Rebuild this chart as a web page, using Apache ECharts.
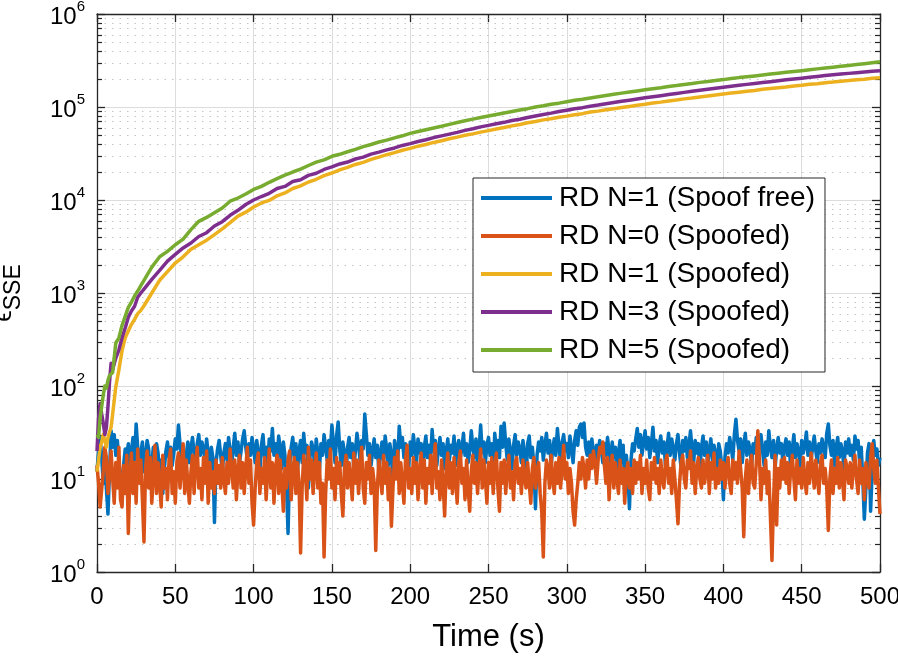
<!DOCTYPE html>
<html>
<head>
<meta charset="utf-8">
<script src="https://cdn.jsdelivr.net/npm/echarts@6/dist/echarts.min.js"></script>
<style>html,body{margin:0;padding:0;background:#fff}#c{width:898px;height:657px}</style>
</head>
<body>
<div id="c"></div>
<script>
const seriesNames = ['RD N=1 (Spoof free)','RD N=0 (Spoofed)','RD N=1 (Spoofed)','RD N=3 (Spoofed)','RD N=5 (Spoofed)'];
const xTicks = [0,50,100,150,200,250,300,350,400,450,500];
const yDecades = [1,10,100,1000,10000,100000,1000000];

const timeNoise = Array.from({length:501},(_,i)=>i);
const blueSpoofFree = [
12,20,28,17,9,14,8,4.2,12,33,22,30,18,26,15,10,7,14,21,18,
24,13,20,28,16,39,22,14,19,25,12,18,26,21,8,15,22,17,24,19,
11,16,7,13,20,25,17,22,14,19,27,21,38,24,16,20,12,18,25,15,
22,28,19,14,24,30,18,25,21,16,27,19,13,22,17,3.4,15,21,26,18,
12,19,24,16,28,20,14,22,31,18,25,15,20,27,33,22,16,24,18,28,
21,15,26,19,12,23,30,17,22,14,27,20,35,18,24,16,29,21,13,25,
18,9,2.6,14,22,28,17,24,12,20,26,15,31,19,23,8,17,25,21,14,
27,19,12,24,18,30,22,16,26,20,38,24,15,29,41,21,14,25,19,10,
22,28,17,24,13,20,31,23,16,26,21,50,30,18,24,14,20,27,17,23,
12,19,25,16,29,21,14,24,18,9,26,20,15,37,22,28,17,24,19,13,
25,18,30,21,15,27,19,24,11,22,29,17,23,16,34,20,26,14,21,28,
18,24,13,20,27,16,23,19,29,14,22,26,17,21,31,18,24,15,20,33,
22,17,27,13,21,38,19,25,15,23,28,18,24,12,31,20,26,17,37,22,
40,24,16,27,20,13,23,30,18,25,21,15,26,19,10,24,29,17,22,14,
4.8,18,25,20,28,16,23,31,19,26,14,21,27,18,35,22,16,25,30,20,
24,17,29,21,15,26,33,23,36,39,28,40,22,18,25,16,27,20,14,23,
19,26,21,15,24,18,28,20,13,25,17,22,11,19,26,15,23,8,18,12,
4.8,16,24,20,27,35,22,30,18,25,33,21,28,17,24,36,20,26,15,23,
29,19,25,14,22,31,18,27,21,16,24,30,19,13,26,20,28,17,23,33,
21,15,26,19,24,12,22,29,18,25,14,21,27,16,23,19,11,24,20,13,
6,17,24,19,28,22,16,30,44,26,20,27,15,23,31,18,25,21,14,24,
19,28,16,23,30,20,14,25,18,33,22,17,26,13,21,28,19,24,15,22,
27,18,25,12,21,30,17,24,20,14,26,19,23,32,18,25,16,22,29,20,
15,24,19,27,21,17,31,39,23,18,26,14,22,28,17,24,20,13,25,19,
27,18,23,16,29,21,26,15,22,10,3.7,8,19,24,4.5,12,26,18,21,14,
17];
const orangeN0 = [
14,9,5,4.8,12,22,17,7,11,20,10,5.5,15,8,22,6,5,14,7,18,
2.6,11,19,7,15,5.5,21,9,16,6,2.1,13,20,8,17,5.5,11,23,7,15,
9,5,18,8,13,6,16,21,7,12,5.5,15,19,8,13,24,7,16,9,5.5,
12,18,7,15,22,8,13,6,17,9,20,5.5,15,8,12,7,16,9,14,8,
17,10,7,15,9,21,13,8,16,6,12,18,8,15,7,13,22,9,16,5.5,
3.2,8,15,19,7,13,9,17,6,12,21,8,15,5.5,13,18,7,16,9,4.5,
13,8,16,20,6,12,17,7,15,9,1.6,8,18,13,6,22,10,16,7,13,
19,8,15,5.5,9,1.45,7,16,10,21,8,13,6,17,9,15,7,4,13,18,
8,15,10,6,19,9,16,7,13,22,8,5.5,15,10,18,7,13,9,1.7,8,
16,10,7,18,9,15,6,13,3.1,8,17,10,20,7,15,9,5.5,16,23,8,
13,7,17,9,15,6,12,19,8,16,5.5,13,9,18,7,15,24,8,12,6,
16,9,4,13,19,8,15,7,17,10,5.5,15,20,9,13,6,16,8,4.5,12,
18,9,15,7,13,21,8,16,10,5.5,15,9,17,7,13,19,8,4.5,15,9,
16,7,13,18,8,12,6,15,17,9,13,7,16,10,8,15,9,5.5,13,17,
8,12,15,7,4.5,1.45,9,16,13,8,18,10,7,15,9,17,8,13,23,10,
15,7,13,9,4.5,3.2,6,9,15,10,17,13,8,16,10,18,13,20,15,9,
16,22,19,25,14,9,17,6,13,18,8,15,10,7,16,9,13,5.5,12,15,
8,13,7,16,9,15,10,18,7,13,9,16,8,6,15,10,17,9,13,7,
16,10,8,15,18,9,13,7,16,10,6,3.3,9,15,18,10,8,16,13,20,
9,15,7,13,17,10,8,16,9,13,18,7,15,10,19,8,13,9,16,10,
15,8,13,17,9,7,16,10,15,9,20,13,8,2.4,10,16,7,13,18,9,
8,15,33,17,6,13,9,16,7,12,4,1.33,5.5,18,3.2,13,8,16,10,17,
9,15,7,13,18,10,6,16,9,13,8,17,10,7,15,9,19,13,8,16,
10,7,15,18,9,13,8,2.8,10,16,7,13,9,17,8,15,10,6,16,13,
9,15,8,13,18,10,7,16,9,13,6,15,10,8,17,24,13,9,16,8,
4.2];

const timeGrowth = [0,1,2,3,4,5,6,7,8,9,10,12,14,16,18,20,22,24,26,28,30,
35,40,45,50,55,60,65,70,75,80,85,90,95,100,105,110,115,120,125,130,135,140,145,150,
155,160,165,170,175,180,185,190,195,200,205,210,215,220,225,230,235,240,245,250,
255,260,265,270,275,280,285,290,295,300,305,310,315,320,325,330,335,340,345,350,
355,360,365,370,375,380,385,390,395,400,405,410,415,420,425,430,435,440,445,450,
455,460,465,470,475,480,485,490,495,500];
const yellowN1 = [12,16,22,25,30,26,22,28,32,36,50,98,150,240,330,390,460,520,600,650,730,
1000,1370,1700,2100,2450,2950,3300,3700,4250,4900,5700,6700,7400,8400,9300,9900,11100,11900,13300,14200,15600,16700,18300,19500,
21100,22400,24100,25400,27300,28900,30700,32300,34300,35900,37900,39500,41600,43400,45600,47400,49700,51400,53700,55700,
58100,60100,62700,64800,67700,69800,72700,74800,77700,79800,82700,84800,88200,90300,93200,95800,98700,101300,104300,106800,
110200,112800,116300,118800,122300,124800,128300,131300,134800,137800,141300,144300,147800,150800,154800,157800,161300,164300,168300,171300,
175300,178300,182300,185300,189300,192300,196300,199300,203300,206000];
const purpleN3 = [20,45,65,50,40,30,36,60,110,176,150,200,245,330,420,550,640,720,900,1000,1100,
1400,1750,2200,2600,3050,3450,4050,4450,5250,5850,6850,7750,8950,10000,10900,11800,13300,14000,15800,16500,18400,19400,21300,22700,
24400,25600,27600,28900,31100,32700,34600,36300,38600,40400,42600,44400,46900,48900,51100,53400,56100,58400,61100,63400,
66100,68400,71600,73900,77100,79900,83100,85900,89600,92400,95600,98400,102100,104900,108600,111900,115100,118400,122100,125400,
129100,132400,136100,139900,143600,147400,151100,154900,159100,162900,167100,170900,175100,178900,183100,186900,191600,195900,200100,203900,
208600,212900,217600,221900,226100,229900,234100,237900,242100,246000];
const greenN5 = [30,28,45,60,80,100,95,115,130,125,140,290,330,450,560,700,800,930,1050,1200,1370,
1900,2450,2800,3300,3800,4800,5900,6500,7300,8200,9700,10500,11600,13000,14000,15500,17000,18500,20000,21500,23500,25500,27000,29500,
31000,33000,35000,37500,39500,42000,44000,46500,49000,52000,54500,57000,59500,62000,65000,68000,71000,74000,77000,80000,
83000,86000,89500,93000,96000,100000,103000,107000,110000,114000,118000,121000,125000,129000,133000,137000,141000,145000,149000,153000,
157000,161000,166000,170000,175000,179000,184000,188000,193000,197000,202000,207000,211000,216000,221000,226000,231000,236000,241000,246000,
252000,257000,262000,268000,274000,280000,286000,292000,299000,306000];

const colors = ['#0072BD','#D95319','#EDB120','#7E2F8E','#77AC30'];
const FONT = '"Liberation Sans", Arial, Helvetica, sans-serif';

const minorValues = [];
for (let k = 0; k < yDecades.length - 1; k++) {
  for (let m = 2; m <= 9; m++) minorValues.push(yDecades[k] * m);
}

function pairs(xs, ys) { return xs.map((x, i) => [x, ys[i]]); }

const lineSeries = [
  [timeNoise, blueSpoofFree],
  [timeNoise, orangeN0],
  [timeGrowth, yellowN1],
  [timeGrowth, purpleN3],
  [timeGrowth, greenN5]
].map((d, i) => ({
  name: seriesNames[i],
  type: 'line',
  data: pairs(d[0], d[1]),
  showSymbol: false,
  symbol: 'none',
  color: colors[i],
  lineStyle: { width: 3.5, color: colors[i], join: 'round' },
  z: 3 + i,
  animation: false
}));

const chart = echarts.init(document.getElementById('c'), null, { renderer: 'canvas' });
const axisLineStyle = { color: '#262626', width: 1.3 };
chart.setOption({
  animation: false,
  backgroundColor: '#fff',
  textStyle: { fontFamily: FONT },
  grid: { left: 97, right: 18, top: 14, bottom: 85, containLabel: false, outerBoundsMode: 'none' },
  legend: {
    data: seriesNames,
    orient: 'vertical',
    left: 473, top: 178,
    icon: 'rect',
    itemWidth: 71, itemHeight: 4,
    itemGap: 10,
    padding: [6, 10, 8, 8],
    backgroundColor: '#fff',
    borderColor: '#262626', borderWidth: 1,
    textStyle: { fontSize: 28, color: '#000', fontFamily: FONT, padding: [0,0,0,2] },
    selectedMode: false
  },
  xAxis: [{
    type: 'value', min: 0, max: 500, interval: 50, position: 'bottom',
    axisLine: { show: true, onZero: false, lineStyle: axisLineStyle },
    axisTick: { show: true, inside: true, length: 8, lineStyle: axisLineStyle },
    axisLabel: { fontSize: 24, color: '#000', margin: 13, fontFamily: FONT,
      customValues: xTicks },
    splitLine: { show: true, lineStyle: { color: '#dcdcdc', width: 1 } },
    name: 'Time (s)', nameLocation: 'middle', nameGap: 50,
    nameTextStyle: { fontSize: 31, color: '#000', fontFamily: FONT }
  }, {
    type: 'value', min: 0, max: 500, interval: 50, position: 'top',
    axisLine: { show: true, onZero: false, lineStyle: axisLineStyle },
    axisTick: { show: true, inside: true, length: 8, lineStyle: axisLineStyle },
    axisLabel: { show: false }, splitLine: { show: false }
  }],
  yAxis: [{
    type: 'log', logBase: 10, min: 1, max: 1000000, splitNumber: 6, position: 'left',
    axisLine: { show: true, onZero: false, lineStyle: axisLineStyle },
    axisTick: { show: true, inside: true, length: 8, lineStyle: axisLineStyle },
    axisLabel: {
      margin: 12, color: '#000',
      formatter: v => '{b|10}{s|' + Math.round(Math.log10(v)) + '}',
      rich: {
        b: { fontSize: 24, fontFamily: FONT, color: '#000', verticalAlign: 'bottom', lineHeight: 30 },
        s: { fontSize: 15, fontFamily: FONT, color: '#000', verticalAlign: 'top', lineHeight: 30 }
      }
    },
    splitLine: { show: true, lineStyle: { color: '#dcdcdc', width: 1 } },
    name: '{e|ϵ}{s|SSE}', nameLocation: 'middle', nameGap: 72, nameRotate: 90,
    nameTextStyle: {
      rich: {
        e: { fontSize: 26, fontFamily: FONT, color: '#000', verticalAlign: 'top', lineHeight: 34 },
        s: { fontSize: 23, fontFamily: FONT, color: '#000', verticalAlign: 'bottom', lineHeight: 34 }
      }
    }
  }, {
    type: 'log', logBase: 10, min: 1, max: 1000000, splitNumber: 6, position: 'right',
    axisLine: { show: true, onZero: false, lineStyle: axisLineStyle },
    axisTick: { show: true, inside: true, length: 8, lineStyle: axisLineStyle },
    axisLabel: { show: false }, splitLine: { show: false }
  }],
  series: [{
    name: 'minorGrid',
    type: 'custom',
    coordinateSystem: 'cartesian2d',
    xAxisIndex: 0, yAxisIndex: 0,
    silent: true, z: 1, clip: false,
    data: minorValues.map(v => [0, v]),
    renderItem: function (params, api) {
      const p = api.coord([0, api.value(1)]);
      const cs = params.coordSys;
      const y = Math.round(p[1]) + 0.5;
      return {
        type: 'group',
        children: [
          { type: 'line', shape: { x1: cs.x, y1: y, x2: cs.x + cs.width, y2: y },
            style: { stroke: '#c4c4c4', lineWidth: 1, lineDash: [1.5, 6] } },
          { type: 'line', shape: { x1: cs.x, y1: y, x2: cs.x + 5, y2: y },
            style: { stroke: '#262626', lineWidth: 1.2 } },
          { type: 'line', shape: { x1: cs.x + cs.width - 5, y1: y, x2: cs.x + cs.width, y2: y },
            style: { stroke: '#262626', lineWidth: 1.2 } }
        ]
      };
    }
  }].concat(lineSeries)
});
</script>
</body>
</html>
